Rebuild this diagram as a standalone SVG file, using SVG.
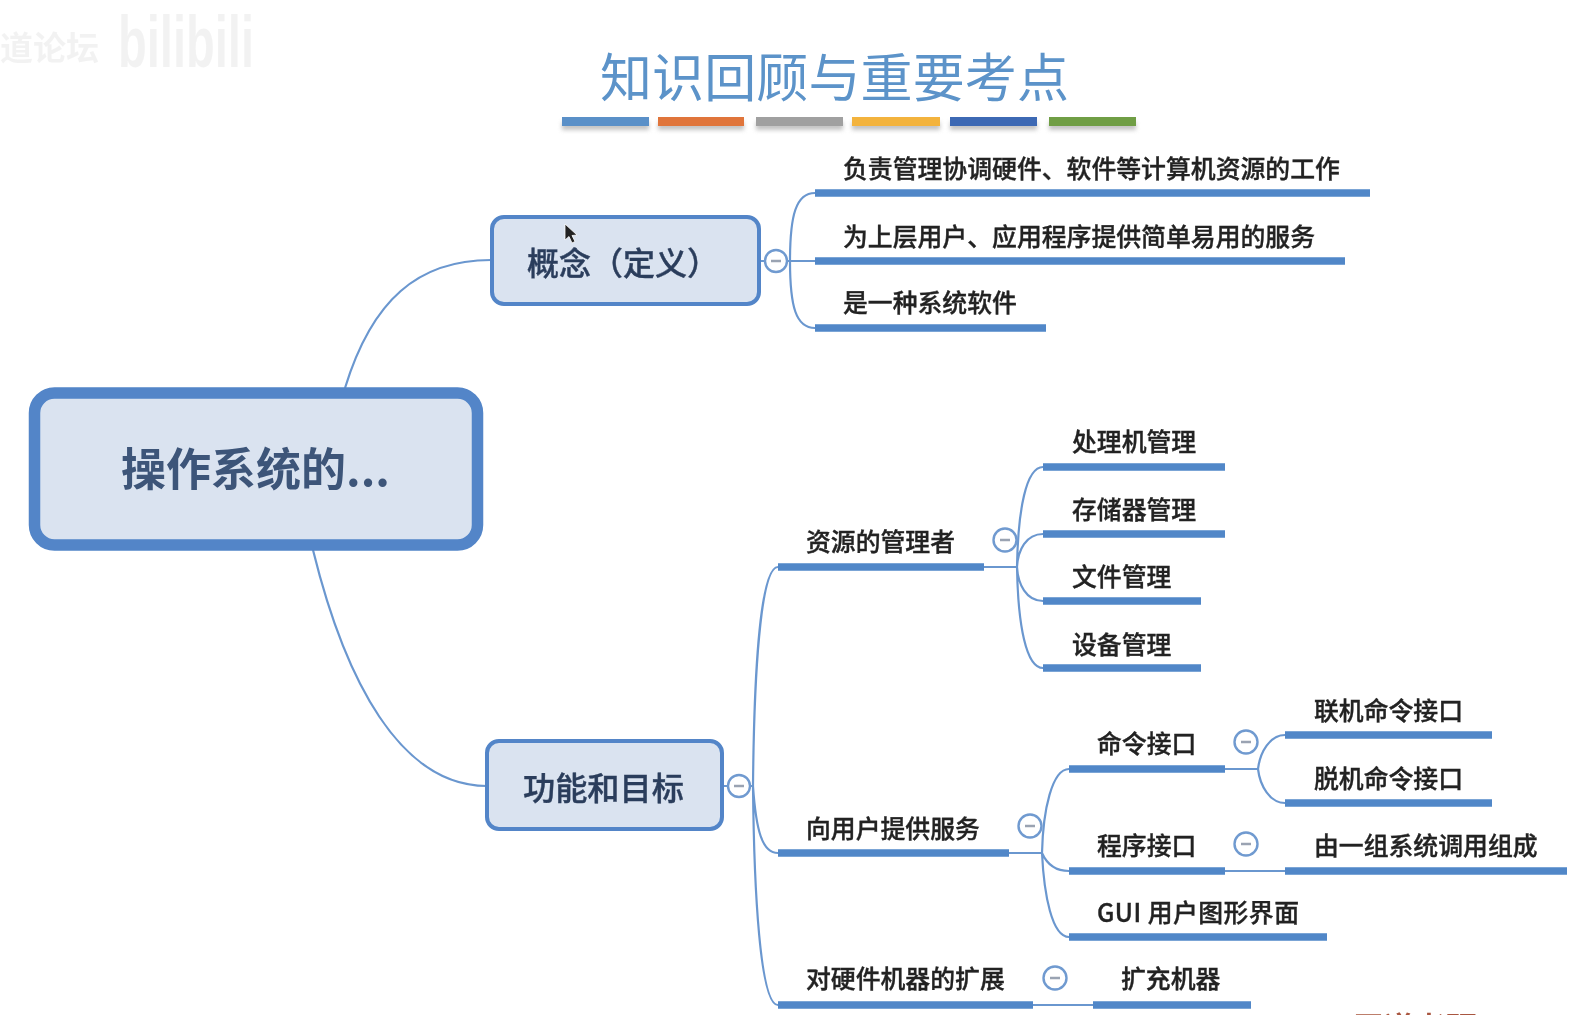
<svg xmlns="http://www.w3.org/2000/svg" width="1592" height="1015" viewBox="0 0 1592 1015">
<defs>
<filter id="sh" x="-10%" y="-50%" width="120%" height="250%"><feGaussianBlur stdDeviation="2"/></filter>
<filter id="soft" x="-5%" y="-20%" width="110%" height="140%"><feGaussianBlur stdDeviation="0.5"/></filter>
</defs>
<style>
text{font-family:"Noto Sans CJK SC","Liberation Sans",sans-serif}
.t{font-size:24.85px;fill:#222;font-weight:500;stroke:#222;stroke-width:0.35}
.title{font-size:52px;fill:#5b93c9;font-weight:400}
.c{fill:none;stroke:#6b97cf;stroke-width:2.2}
.u{fill:none;stroke:#5187c8;stroke-width:7.5}
.b{fill:#dae3f0;stroke:#5285c8;stroke-width:4}
.m{fill:#fff;stroke:#6f9ad0;stroke-width:2.4}
.d{stroke:#9aa3b2;stroke-width:2.5}
.box{fill:#2c3e5c;font-weight:500;stroke:#2c3e5c;stroke-width:0.4}
</style>
<rect width="1592" height="1015" fill="#fff"/>
<g id="watermark" opacity="0.1" fill="#8a8a8a" filter="url(#soft)">
<text x="0" y="60" font-size="33" font-weight="700">道论坛</text>
<text x="118" y="67" font-size="72" font-weight="700" textLength="136" lengthAdjust="spacingAndGlyphs" style="font-family:'Liberation Sans',sans-serif">bilibili</text>
</g>
<g id="title" filter="url(#soft)">
<text class="title" x="600" y="97" textLength="469" lengthAdjust="spacing">知识回顾与重要考点</text>
<g fill="#888" opacity="0.5" filter="url(#sh)">
<rect x="562" y="122" width="87" height="8"/><rect x="658" y="122" width="86" height="8"/><rect x="756" y="122" width="87" height="8"/><rect x="852" y="122" width="88" height="8"/><rect x="950" y="122" width="87" height="8"/><rect x="1049" y="122" width="87" height="8"/>
</g>
<rect x="562" y="117" width="87" height="9" fill="#5a90c8"/>
<rect x="658" y="117" width="86" height="9" fill="#e0743a"/>
<rect x="756" y="117" width="87" height="9" fill="#a0a0a0"/>
<rect x="852" y="117" width="88" height="9" fill="#f3b33d"/>
<rect x="950" y="117" width="87" height="9" fill="#3d69b4"/>
<rect x="1049" y="117" width="87" height="9" fill="#6f9e45"/>
</g>
<g id="connectors" filter="url(#soft)">
<path class="c" d="M345 388C372 300 418 260 491 260"/>
<path class="c" d="M313 550C345 680 400 786 487 786"/>
<path class="c" d="M760 261H815M790 261C790 215 796 193 815 193M790 261C790 307 796 328 815 328"/>
<path class="c" d="M723 786H753M753 786C754 680 760 567 778 567M753 786C756 830 762 853 778 853M753 786C754 890 760 1005 778 1005"/>
<path class="c" d="M984 567H1017M1017 567C1018 510 1026 467 1043 467M1017 567C1018 550 1026 534 1043 534M1017 567C1018 584 1026 601 1043 601M1017 567C1018 625 1026 668 1043 668"/>
<path class="c" d="M1009 853H1042M1042 853C1043 810 1052 769 1069 769M1042 853C1046 862 1054 871 1069 871M1042 853C1044 895 1052 937 1069 937"/>
<path class="c" d="M1225 769H1258M1258 769C1260 752 1270 735 1285 735M1258 769C1260 786 1270 803 1285 803"/>
<path class="c" d="M1225 871H1285"/>
<path class="c" d="M1033 1005H1093"/>
</g>
<g id="root" filter="url(#soft)">
<rect x="34.500" y="393" width="443" height="152" rx="20" fill="#dae3f0" stroke="#5285c8" stroke-width="11.500"/>
<text x="121" y="486" font-size="45" font-weight="700" fill="#3c5479">操作系统的...</text>
</g>
<g id="concept" filter="url(#soft)">
<rect class="b" x="492" y="217" width="267" height="87" rx="12"/>
<text class="box" x="527" y="275" font-size="32">概念（定义）</text>
<circle class="m" cx="776" cy="261" r="11"/><path class="d" d="M771 261H781"/>
</g>
<g id="function" filter="url(#soft)">
<rect class="b" x="487" y="741" width="235" height="88" rx="12"/>
<text class="box" x="523" y="800" font-size="32.200">功能和目标</text>
<circle class="m" cx="739" cy="786" r="11"/><path class="d" d="M734 786H744"/>
</g>
<g id="c1" filter="url(#soft)"><text class="t" x="843" y="178">负责管理协调硬件、软件等计算机资源的工作</text><path class="u" d="M815 193H1370"/></g>
<g id="c2" filter="url(#soft)"><text class="t" x="843" y="246">为上层用户、应用程序提供简单易用的服务</text><path class="u" d="M815 261H1345"/></g>
<g id="c3" filter="url(#soft)"><text class="t" x="843" y="312">是一种系统软件</text><path class="u" d="M815 328H1046"/></g>
<g id="f1" filter="url(#soft)"><text class="t" x="806" y="551">资源的管理者</text><path class="u" d="M778 567H984"/><circle class="m" cx="1005" cy="540" r="11.500"/><path class="d" d="M1000 540H1010"/></g>
<g id="f11" filter="url(#soft)"><text class="t" x="1072" y="451">处理机管理</text><path class="u" d="M1043 467H1225"/></g>
<g id="f12" filter="url(#soft)"><text class="t" x="1072" y="519">存储器管理</text><path class="u" d="M1043 534H1225"/></g>
<g id="f13" filter="url(#soft)"><text class="t" x="1072" y="586">文件管理</text><path class="u" d="M1043 601H1201"/></g>
<g id="f14" filter="url(#soft)"><text class="t" x="1072" y="654">设备管理</text><path class="u" d="M1043 668H1201"/></g>
<g id="f2" filter="url(#soft)"><text class="t" x="806" y="838">向用户提供服务</text><path class="u" d="M778 853H1009"/><circle class="m" cx="1030" cy="826" r="11.500"/><path class="d" d="M1025 826H1035"/></g>
<g id="f21" filter="url(#soft)"><text class="t" x="1097" y="753">命令接口</text><path class="u" d="M1069 769H1225"/><circle class="m" cx="1246" cy="742" r="11.500"/><path class="d" d="M1241 742H1251"/></g>
<g id="f211" filter="url(#soft)"><text class="t" x="1314" y="720">联机命令接口</text><path class="u" d="M1285 735H1492"/></g>
<g id="f212" filter="url(#soft)"><text class="t" x="1314" y="788">脱机命令接口</text><path class="u" d="M1285 803H1492"/></g>
<g id="f22" filter="url(#soft)"><text class="t" x="1097" y="855">程序接口</text><path class="u" d="M1069 871H1225"/><circle class="m" cx="1246" cy="844" r="11.500"/><path class="d" d="M1241 844H1251"/></g>
<g id="f221" filter="url(#soft)"><text class="t" x="1314" y="855">由一组系统调用组成</text><path class="u" d="M1285 871H1567"/></g>
<g id="f23" filter="url(#soft)"><text class="t" x="1097" y="922" textLength="202" lengthAdjust="spacing">GUI 用户图形界面</text><path class="u" d="M1069 937H1327"/></g>
<g id="f3" filter="url(#soft)"><text class="t" x="806" y="988">对硬件机器的扩展</text><path class="u" d="M778 1005H1033"/><circle class="m" cx="1055" cy="978" r="11.500"/><path class="d" d="M1050 978H1060"/></g>
<g id="f31" filter="url(#soft)"><text class="t" x="1121" y="988">扩充机器</text><path class="u" d="M1093 1005H1251"/></g>
<text id="mark" x="1353" y="1039" font-size="31" font-weight="700" fill="#a9573f" filter="url(#soft)">王道考研</text>
<path id="cursor" d="M565 224V240L569 236.500L572 243L575 241.500L572 235.500L577 235Z" fill="#222" stroke="#fff" stroke-width="0.800"/>
</svg>
